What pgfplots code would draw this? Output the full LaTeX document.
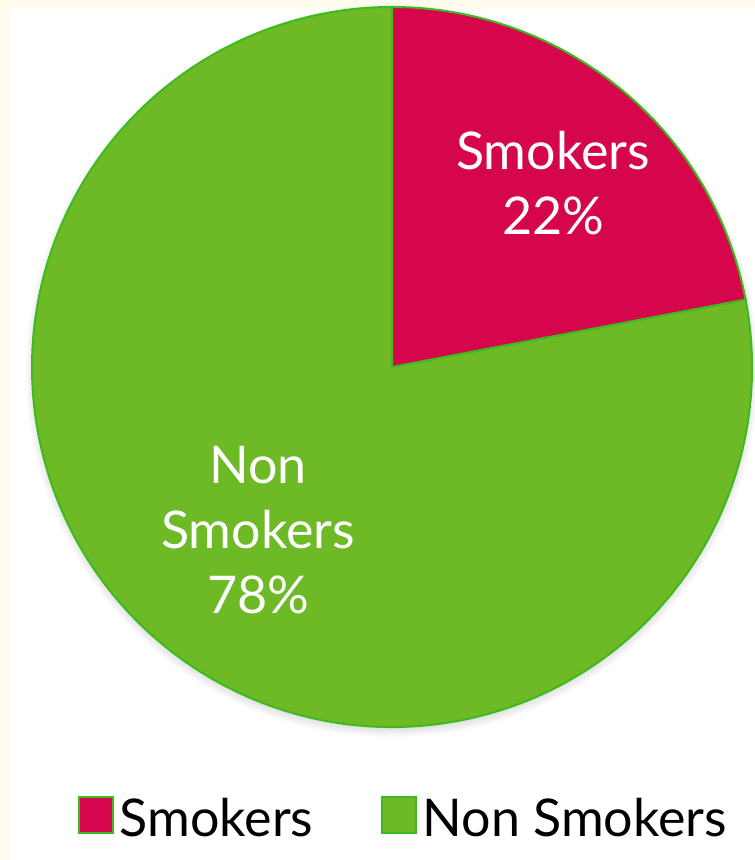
\documentclass[border=0pt]{standalone}
\usepackage{pgfplots}
\usepackage{pgfplotstable}
\pgfplotsset{compat=1.18}
\usepackage{fontspec}
\setmainfont{Lato}
\definecolor{smk}{HTML}{D5064B}
\definecolor{nsm}{HTML}{6DB926}
\definecolor{edge}{HTML}{3DBA1F}
\definecolor{cream}{HTML}{FFFCEE}

\pgfplotstableread{
label value
Smokers 22
NonSmokers 78
}\piedata

\begin{document}
\begin{tikzpicture}
\pgfplotstablegetelem{0}{value}\of\piedata \pgfmathsetmacro\va{\pgfplotsretval}
\pgfplotstablegetelem{1}{value}\of\piedata \pgfmathsetmacro\vb{\pgfplotsretval}
\pgfmathsetmacro\aStart{90}
\pgfmathsetmacro\aMid{90-360*\va/(\va+\vb)}
\pgfmathsetmacro\aEnd{90-360}
\begin{axis}[
  width=755pt,height=860pt,scale only axis,
  xmin=0,xmax=755,ymin=0,ymax=860,
  hide axis, clip=false,
  legend columns=2,
  legend style={at={(axis cs:78,42)}, anchor=west, draw=none, fill=none,
    inner sep=0pt,
    font=\fontsize{52}{60}\selectfont,
    /tikz/every even column/.append style={column sep=66pt},
    /tikz/every odd column/.append style={column sep=4pt},
    cells={anchor=west}},
  legend image code/.code={\filldraw[#1, line width=1.5pt] (0pt,-15pt) rectangle (34pt,21pt);},
]
\fill[cream] (axis cs:0,0) rectangle (axis cs:755,860);
\fill[white] (axis cs:10,0) rectangle (axis cs:755,851);
\pgfplotsinvokeforeach{356,358,360,362,364,366}{
  \fill[black, opacity=0.025] (axis cs:392,489) circle[radius=#1pt];
}
\filldraw[fill=nsm, draw=edge, line width=2pt] (axis cs:392,493) -- ++(\aMid:360pt) arc[start angle=\aMid, end angle=\aEnd, radius=360pt] -- cycle;
\filldraw[fill=smk, draw=edge, line width=2pt] (axis cs:392,493) -- ++(\aStart:360pt) arc[start angle=\aStart, end angle=\aMid, radius=360pt] -- cycle;
\node[white, align=center, font=\fontsize{52}{65}\selectfont] at (axis cs:553,677) {Smokers\\22\%};
\node[white, align=center, font=\fontsize{52}{65}\selectfont] at (axis cs:258,330) {Non\\Smokers\\78\%};
\addlegendimage{fill=smk, draw=edge}
\addlegendentry{Smokers}
\addlegendimage{fill=nsm, draw=edge}
\addlegendentry{Non Smokers}
\end{axis}
\pgfresetboundingbox
\path[use as bounding box] (current axis.south west) rectangle (current axis.north east);
\end{tikzpicture}
\end{document}
